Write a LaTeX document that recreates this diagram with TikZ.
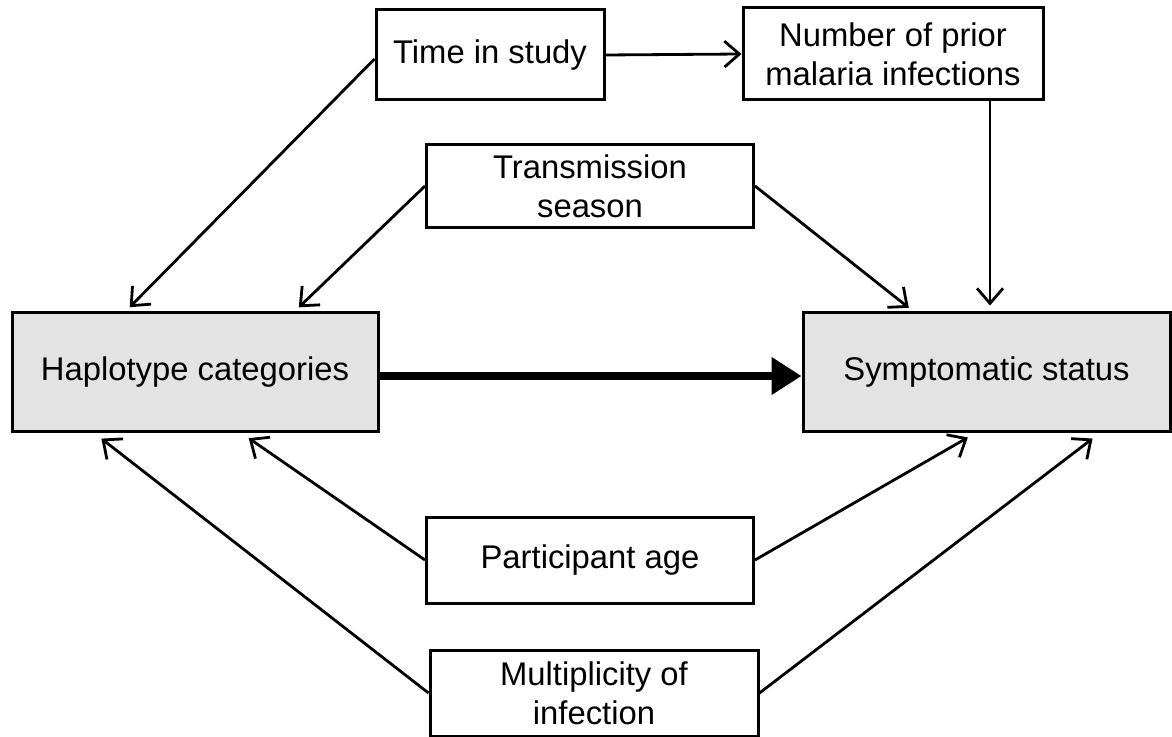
\documentclass[tikz,border=0pt]{standalone}
\usepackage{fontspec}
\setmainfont{Liberation Sans}
\usetikzlibrary{arrows.meta}
\definecolor{boxgray}{RGB}{227,227,227}
\begin{document}
\begin{tikzpicture}[x=0.5pt, y=-0.5pt, >={Straight Barb[length=7.5pt,width=13pt]},
  arr/.style={->, line width=1.4pt, shorten >=3pt},
  big/.style={->, line width=4pt, >={Triangle[length=15pt,width=18pt]}}]
\useasboundingbox (0,0) rectangle (1172,737);
\tikzstyle{every node}=[draw, line width=1.5pt, rectangle, align=center, inner sep=0pt, font=\fontsize{16.4}{19.5}\selectfont]
\node[minimum width=114pt, minimum height=45pt](time) at (490,55) {Time in study};
\node[minimum width=150pt, minimum height=46pt](prior) at (893,54) {Number of prior\\malaria infections};
\node[minimum width=163.5pt, minimum height=41.5pt](season) at (590,186) {Transmission\\season};
\node[minimum width=183pt, minimum height=59pt, fill=boxgray](hap) at (195,372) {Haplotype categories};
\node[minimum width=183.5pt, minimum height=59pt, fill=boxgray](symp) at (986.5,372) {Symptomatic status};
\node[minimum width=163.5pt, minimum height=43pt](age) at (590,560) {Participant age};
\node[minimum width=164pt, minimum height=43pt](moi) at (594,693) {Multiplicity of\\infection};
\draw[arr] ([yshift=-2pt]time.west) -- ([xshift=57.5pt]hap.north west);
\draw[arr, shorten >=0pt] (time.east) -- (prior.west);
\draw[arr] ([xshift=48.5pt]prior.south) -- ([xshift=48.5pt]prior.south |- symp.north);
\draw[arr] (season.west) -- ([xshift=142pt]hap.north west);
\draw[arr] (season.east) -- ([xshift=56pt]symp.north west);
\draw[big] ([yshift=-2pt]hap.east) -- ([yshift=-2pt]symp.west);
\draw[arr, shorten >=5pt] (age.west) -- ([xshift=115pt]hap.south west);
\draw[arr, shorten >=5pt] (age.east) -- ([xshift=87.5pt]symp.south west);
\draw[arr, shorten >=5pt] (moi.west) -- ([xshift=41.5pt]hap.south west);
\draw[arr, shorten >=5pt] (moi.east) -- ([xshift=149.5pt]symp.south west);
\end{tikzpicture}
\end{document}
